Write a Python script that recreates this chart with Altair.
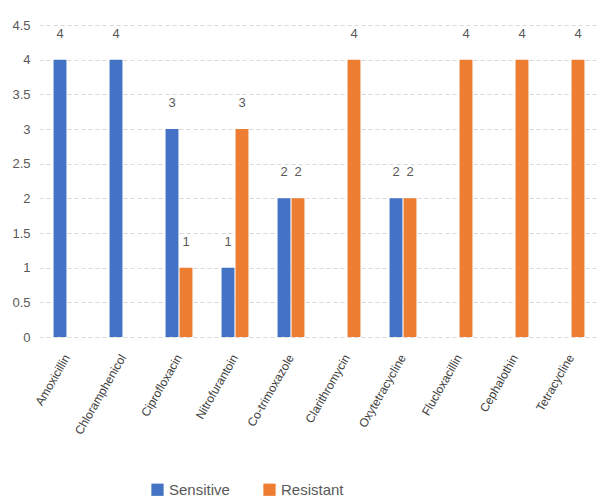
import altair as alt
import pandas as pd

# Antibiotic panel and isolate counts per outcome
antibiotics = [
    "Amoxicillin", "Chloramphenicol", "Ciprofloxacin", "Nitrofurantoin",
    "Co-trimoxazole", "Clarithromycin", "Oxytetracycline", "Flucloxacillin",
    "Cephalothin", "Tetracycline",
]
sensitive = [4, 4, 3, 1, 2, 0, 2, 0, 0, 0]
resistant = [0, 0, 1, 3, 2, 4, 2, 4, 4, 4]
series = ["Sensitive", "Resistant"]
colors = ["#4472C4", "#ED7D31"]

rows = []
for name, s, r in zip(antibiotics, sensitive, resistant):
    rows.append({"drug": name, "outcome": "Sensitive", "count": s})
    rows.append({"drug": name, "outcome": "Resistant", "count": r})
df = pd.DataFrame(rows)

x_enc = alt.X(
    "drug:N",
    sort=antibiotics,
    title=None,
    scale=alt.Scale(paddingInner=0.52, paddingOuter=0.26),
    axis=alt.Axis(
        labelAngle=-60,
        labelFontSize=12,
        labelColor="#404040",
        labelFont="Liberation Sans",
        ticks=False,
        domain=False,
        grid=False,
        labelPadding=18,
        labelLimit=200,
    ),
)
y_enc = alt.Y(
    "count:Q",
    title=None,
    scale=alt.Scale(domain=[0, 4.5]),
    axis=alt.Axis(
        values=[0, 0.5, 1, 1.5, 2, 2.5, 3, 3.5, 4, 4.5],
        format="~g",
        labelFontSize=13,
        labelColor="#595959",
        labelFont="Liberation Sans",
        ticks=False,
        domain=False,
        labelPadding=9,
        gridColor="#D9D9D9",
        gridDash=[4, 3],
        gridWidth=1,
    ),
)
off_enc = alt.XOffset(
    "outcome:N", sort=series, scale=alt.Scale(paddingInner=0.08)
)
color_enc = alt.Color(
    "outcome:N",
    sort=series,
    scale=alt.Scale(domain=series, range=colors),
    legend=alt.Legend(
        title=None,
        orient="none",
        legendX=111,
        legendY=457,
        direction="horizontal",
        symbolType="square",
        symbolSize=150,
        symbolStrokeWidth=0,
        labelFontSize=15,
        labelColor="#595959",
        labelFont="Liberation Sans",
        columnPadding=32,
    ),
)

bars = alt.Chart(df).mark_bar().encode(
    x=x_enc, y=y_enc, xOffset=off_enc, color=color_enc
)

labels = (
    alt.Chart(df)
    .transform_filter(alt.datum.count > 0)
    .mark_text(dy=-26, fontSize=13, color="#595959", font="Liberation Sans", baseline="middle")
    .encode(x=x_enc, y=y_enc, xOffset=off_enc, text=alt.Text("count:Q", format="d"))
)

chart = (
    alt.layer(bars, labels)
    .properties(
        width=560,
        height=312,
        autosize=alt.AutoSizeParams(type="none"),
        padding={"left": 39, "top": 25, "right": 4, "bottom": 167},
    )
    .configure(background="white")
    .configure_view(strokeWidth=0, strokeOpacity=0)
)

chart.save("out.html", embed_options={"renderer": "svg", "actions": False})
